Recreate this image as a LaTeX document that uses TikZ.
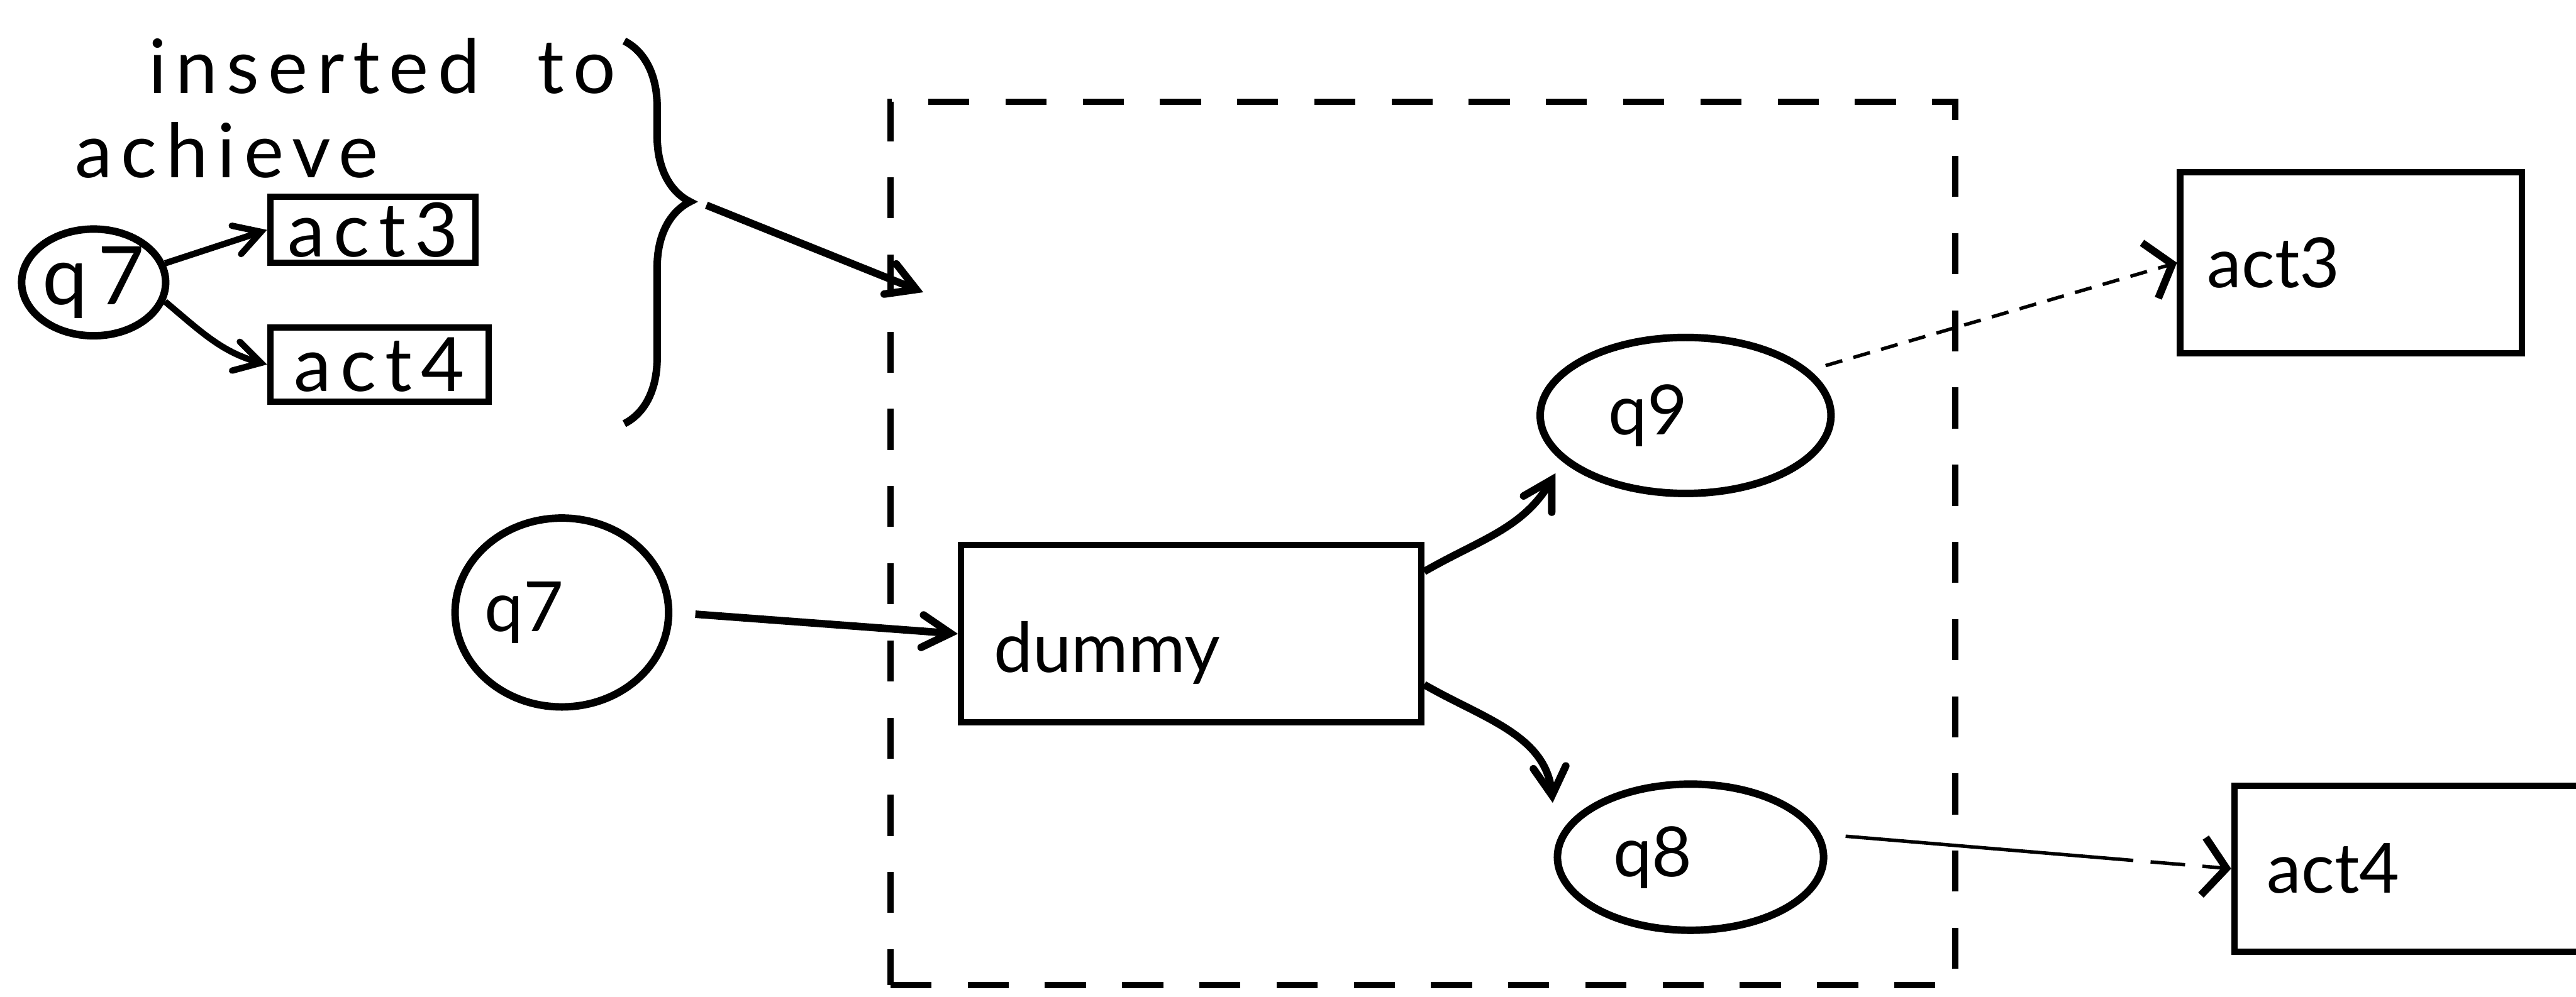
\documentclass[tikz,border=0pt]{standalone}
\usepackage{fontspec}
\setmainfont{Lato}
\newfontfamily\handfont[LetterSpace=12]{Lato}
\usepackage{tikz}
\usetikzlibrary{arrows,arrows.meta,shapes.geometric,decorations.pathreplacing}

\begin{document}
\begin{tikzpicture}[scale=1,>=angle 60,
		state/.style={ellipse,draw,line width=1.3pt,inner sep=0pt,font=\fontsize{12}{14}\selectfont,
			execute at begin node=\hspace*{-0.46cm}},
		act/.style={rectangle,draw,line width=1.1pt,inner sep=0pt,font=\fontsize{12}{14}\selectfont},
		small/.style={rectangle,draw,line width=1.1pt,inner sep=0pt,font=\handfont\fontsize{13}{15}\selectfont},
		hand/.style={inner sep=0pt,font=\handfont\fontsize{13}{15}\selectfont},
		link/.style={->,line width=1.3pt},
		weak/.style={-{Straight Barb[length=4pt,width=10pt,line width=1.3pt]},line width=0.6pt,dash pattern=on 3pt off 2pt}]
	\useasboundingbox (0,0) rectangle (15.68,6.07);

	% note in the corner
	\node[hand,anchor=base west] (note1) at (0.9,5.5) {inserted\hspace{0.35cm}to};
	\node[hand,anchor=base west] (note2) at (0.45,4.99) {achieve};
	\node[ellipse,draw,line width=1.3pt,inner sep=0pt,font=\handfont\fontsize{14}{16}\selectfont,minimum width=0.85cm,minimum height=0.65cm] (sq7) at (0.57,4.35) {q7};
	\node[small,minimum width=1.25cm,minimum height=0.4cm] (sact3) at (2.27,4.67) {act3};
	\node[small,minimum width=1.33cm,minimum height=0.45cm] (sact4) at (2.31,3.85) {act4};
	\draw[link,line width=1.1pt] (sq7.15) -- (sact3.west);
	\draw[link,line width=1.1pt] (sq7.-15) to[out=-40,in=165] (sact4.west);

	\draw[line width=1.3pt,decorate,decoration={brace,amplitude=0.4cm,aspect=0.42}] (3.8,5.82) -- (3.8,3.49);
	\coordinate (tip) at (4.3,4.82);
	\coordinate (entry) at (5.62,4.29);
	\draw[link] (tip) -- (entry);

	% the inserted part
	\node[draw,line width=1.1pt,dash pattern=on 0.25cm off 0.22cm,minimum width=6.48cm,minimum height=5.38cm] (frame) at (8.66,2.76) {};

	\node[state,minimum width=1.3cm,minimum height=1.15cm] (q7) at (3.42,2.34) {q7};
	\node[act,minimum width=2.8cm,minimum height=1.08cm,text width=2.4cm,align=left,
		text height=0.55cm,text depth=0.08cm] (dummy) at (7.25,2.21) {dummy};
	\node[state,minimum width=1.77cm,minimum height=0.95cm] (q9) at (10.26,3.54) {q9};
	\node[state,minimum width=1.62cm,minimum height=0.89cm] (q8) at (10.29,0.85) {q8};

	\node[act,minimum width=2.08cm,minimum height=1.1cm,text width=1.75cm,align=left] (act3) at (14.31,4.47) {act3};
	\node[act,minimum width=2.4cm,minimum height=1.01cm,text width=2.0cm,align=left] (act4) at (14.8,0.78) {act4};

	\draw[link,shorten <=0.14cm] (q7.east) -- (dummy.west);
	\draw[link] ([yshift=-0.18cm]dummy.north east) to[out=30,in=240] ([xshift=-0.15cm]q9.south west);
	\draw[link] ([yshift=0.25cm]dummy.south east) to[out=-30,in=95] ([xshift=-0.25cm]q8.north west);
	\draw[weak,shorten <=0.1cm] (q9.20) -- (act3.west);
	\draw[weak,shorten <=0.15cm,dash pattern=on 50pt off 3pt on 6pt off 3pt] (q8.10) -- (act4.west);
\end{tikzpicture}
\end{document}
